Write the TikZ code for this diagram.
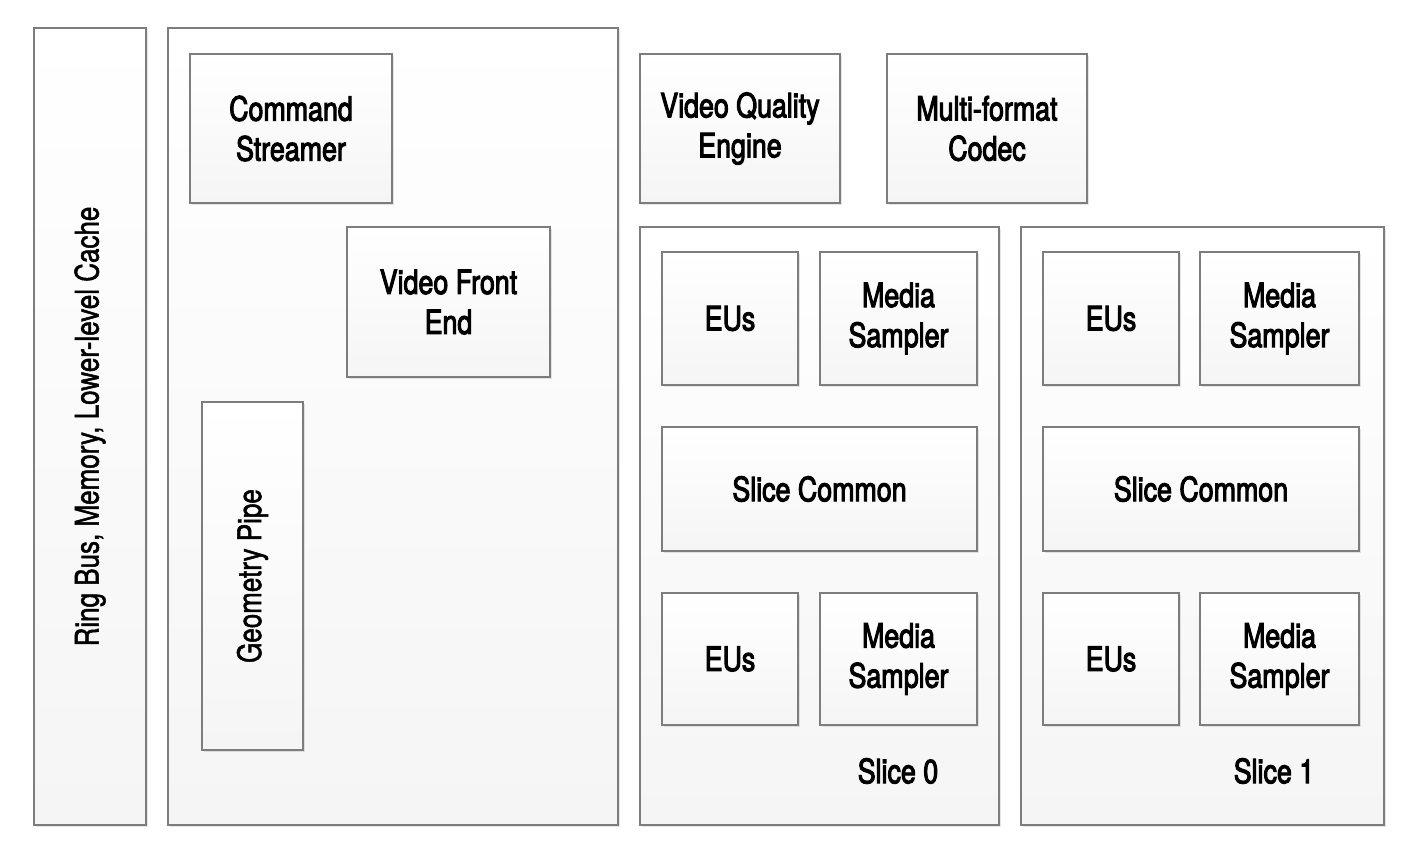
\documentclass[tikz,border=0pt]{standalone}
\usepackage{fontspec}
\setmainfont{TeX Gyre Heros}[FakeStretch=0.8,FakeBold=3]
\newfontfamily\rotfont{TeX Gyre Heros}[FakeStretch=0.8,FakeBold=1.5]
\usetikzlibrary{shadows}
\definecolor{edge}{RGB}{125,125,125}
\definecolor{fillbot}{RGB}{245,245,245}
\tikzset{
  blk/.style={draw=edge, line width=1.6pt, top color=white, bottom color=fillbot,
    rectangle, anchor=north west, inner sep=0pt, outer sep=0pt, align=center,
    font=\fontsize{33.5}{40}\selectfont,
    drop shadow={shadow xshift=1.5pt, shadow yshift=-1.5pt, opacity=0.2, fill=gray}},
  lbl/.style={font=\fontsize{33.5}{40}\selectfont, inner sep=0pt},
  rotlbl/.style={font=\rotfont\fontsize{32.5}{36}\selectfont, rotate=90, inner sep=0pt}
}
\newcommand{\blkat}[6]{\node[blk, minimum width=#4pt, minimum height=#5pt] (#1) at (#2,#3) {#6};}
\begin{document}
\begin{tikzpicture}[x=1pt,y=-1pt]
\useasboundingbox[fill=white] (0,0) rectangle (1408,852);
% outer columns
\blkat{ring}{34}{28}{112}{797}{}
\node[rotlbl] (ringtxt) at (ring.center) {Ring Bus, Memory, Lower-level Cache};
\blkat{front}{168}{28}{450}{797}{}
\blkat{cs}{190}{54}{202}{149}{Command\\Streamer}
\blkat{vfe}{347}{227}{203}{150}{Video Front\\End}
\blkat{geo}{202}{402}{101}{348}{}
\node[rotlbl] (geotxt) at (geo.center) {Geometry Pipe};
\blkat{vqe}{640}{54}{200}{149}{Video Quality\\Engine}
\blkat{mfc}{887}{54}{200}{149}{Multi-format\\Codec}
% slice 0
\blkat{sl0}{640}{227}{359}{598}{}
\blkat{eua}{662}{252}{136}{133}{EUs}
\blkat{msa}{820}{252}{157}{133}{Media\\Sampler}
\blkat{sca}{662}{427}{315}{124}{Slice Common}
\blkat{eub}{662}{593}{136}{132}{EUs}
\blkat{msb}{820}{593}{157}{132}{Media\\Sampler}
\node[lbl] (sl0txt) at (898,771) {Slice 0};
% slice 1
\blkat{sl1}{1021}{227}{363}{598}{}
\blkat{euc}{1043}{252}{136}{133}{EUs}
\blkat{msc}{1200}{252}{159}{133}{Media\\Sampler}
\blkat{scb}{1043}{427}{316}{124}{Slice Common}
\blkat{eud}{1043}{593}{136}{132}{EUs}
\blkat{msd}{1200}{593}{159}{132}{Media\\Sampler}
\node[lbl] (sl1txt) at (1274,771) {Slice 1};
\end{tikzpicture}
\end{document}
